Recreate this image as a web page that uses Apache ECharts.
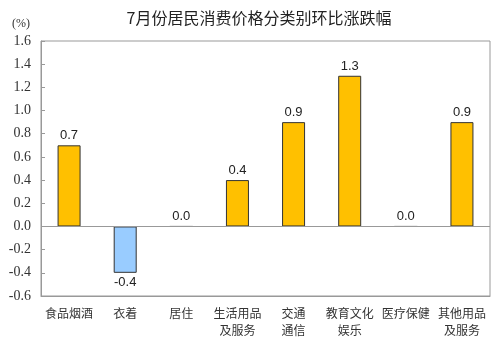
<!DOCTYPE html>
<html><head><meta charset="utf-8">
<script src="https://cdn.jsdelivr.net/npm/echarts@6/dist/echarts.min.js"></script>
<style>html,body{margin:0;padding:0;background:#fff}#c{width:499px;height:341px}</style>
</head><body><div id="c"></div>
<script>
const categories = ['食品烟酒','衣着','居住','生活用品\n及服务','交通\n通信','教育文化\n娱乐','医疗保健','其他用品\n及服务'];
const values = [0.7, -0.4, 0.0, 0.4, 0.9, 1.3, 0.0, 0.9];
const yTicks = {min: -0.6, max: 1.6, interval: 0.2};
const title = '7月份居民消费价格分类别环比涨跌幅';
const unit = '(%)';
const serif = 'Liberation Serif';

const chart = echarts.init(document.getElementById('c'));
chart.setOption({
  animation: false,
  backgroundColor: '#fff',
  title: {text: title, left: 254, top: 5, textAlign: 'center',
    textStyle: {fontFamily: 'Noto Sans CJK SC', fontSize: 16, fontWeight: 'normal', color: '#222'}},
  graphic: [{type: 'text', left: 12, top: 18, style: {text: unit, fontFamily: serif, fontSize: 12, fill: '#333'}}],
  grid: {left: 41, right: 9, top: 41, bottom: 45, show: true, borderColor: '#999', borderWidth: 1},
  xAxis: {type: 'category', data: categories,
    axisLine: {onZero: false, lineStyle: {color: '#999'}},
    axisTick: {show: false},
    axisLabel: {interval: 0, margin: 9, fontFamily: 'Noto Sans CJK SC', fontSize: 12, color: '#333', lineHeight: 17}},
  yAxis: {type: 'value', min: yTicks.min, max: yTicks.max, interval: yTicks.interval,
    axisLine: {show: true, lineStyle: {color: '#999'}},
    axisTick: {show: true, inside: true, length: 4, lineStyle: {color: '#999'}},
    splitLine: {show: false},
    axisLabel: {margin: 10, fontFamily: serif, fontSize: 14, color: '#333',
      formatter: v => v.toFixed(1)}},
  series: [{type: 'bar', barWidth: 23,
    data: values.map(v => ({value: v,
      itemStyle: {color: v < 0 ? '#99CCFF' : '#FFC000', borderColor: '#333', borderWidth: 1},
      label: {position: v < 0 ? 'bottom' : 'top'}})),
    label: {show: true, formatter: p => p.value.toFixed(1), fontFamily: 'Liberation Sans', fontSize: 13, color: '#222', distance: 3},
    markLine: {silent: true, symbol: 'none', label: {show: false},
      lineStyle: {color: '#999', type: 'solid', width: 1}, data: [{yAxis: 0}]}
  }]
});
</script></body></html>
